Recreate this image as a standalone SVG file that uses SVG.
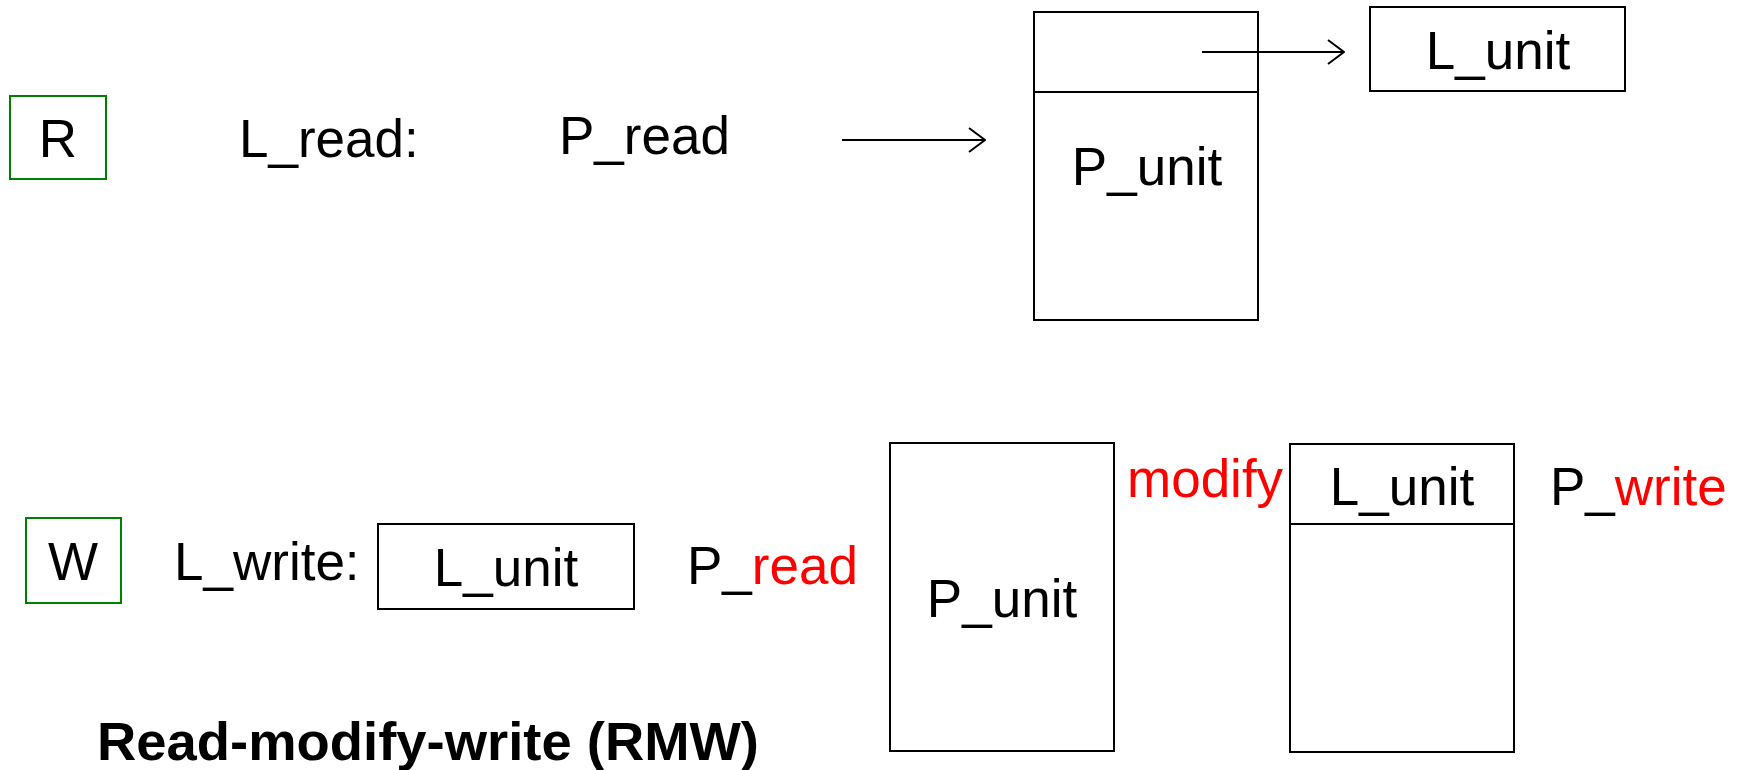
<svg xmlns="http://www.w3.org/2000/svg" width="1742" height="770" viewBox="0 0 1742 770">
<defs>
<style>
.t{font-family:"Liberation Sans",Arial,sans-serif;font-size:53px;fill:#000}
.c{text-anchor:middle}
.r{fill:#ff0000}
.box{fill:none;stroke:#000;stroke-width:2}
.gbox{fill:none;stroke:#008000;stroke-width:2}
.ln{fill:none;stroke:#000;stroke-width:2}
.title{font-family:"Liberation Sans",Arial,sans-serif;font-size:53px;font-weight:bold;fill:#000}
</style>
<marker id="arr" viewBox="0 0 18 26" refX="17" refY="13" markerWidth="18" markerHeight="26" markerUnits="userSpaceOnUse" orient="auto">
<path d="M1,1 L17,13 L1,25" fill="none" stroke="#000" stroke-width="2"/>
</marker>
</defs>
<rect width="1742" height="770" fill="#fff"/>

<g id="R">
<rect class="gbox" x="10" y="96" width="96" height="83"/>
<text class="t c" x="58" y="157">R</text>
</g>
<g id="L_read"><text class="t" x="239" y="157">L_read:</text></g>
<g id="P_read_top"><text class="t" x="559" y="154">P_read</text></g>
<g id="P_unit_top">
<rect class="box" x="1034" y="12" width="224" height="308"/>
<line class="ln" x1="1034" y1="92" x2="1258" y2="92"/>
<text class="t c" x="1147" y="185">P_unit</text>
</g>
<g id="L_unit_top">
<rect class="box" x="1370" y="7" width="255" height="84"/>
<text class="t c" x="1498" y="69">L_unit</text>
</g>

<g id="W">
<rect class="gbox" x="26" y="518" width="95" height="85"/>
<text class="t c" x="73" y="580">W</text>
</g>
<g id="L_write"><text class="t" x="174" y="580">L_write:</text></g>
<g id="L_unit_w">
<rect class="box" x="378" y="524" width="256" height="85"/>
<text class="t c" x="506" y="586">L_unit</text>
</g>
<g id="P_read_w"><text class="t" x="687" y="584">P_<tspan class="r">read</tspan></text></g>
<g id="P_unit_w">
<rect class="box" x="890" y="443" width="224" height="308"/>
<text class="t c" x="1002" y="617">P_unit</text>
</g>
<g id="modify"><text class="t r" x="1127" y="497">modify</text></g>
<g id="L_unit_w2">
<rect class="box" x="1290" y="444" width="224" height="308"/>
<line class="ln" x1="1290" y1="524" x2="1514" y2="524"/>
<text class="t c" x="1402" y="505">L_unit</text>
</g>
<g id="P_write"><text class="t" x="1550" y="505">P_<tspan class="r">write</tspan></text></g>
<g id="title"><text class="title" x="97" y="760" textLength="662" lengthAdjust="spacingAndGlyphs">Read-modify-write (RMW)</text></g>

<g id="connectors">
<line class="ln" x1="842" y1="140" x2="985" y2="140" marker-end="url(#arr)"/>
<line class="ln" x1="1202" y1="52" x2="1344" y2="52" marker-end="url(#arr)"/>
</g>
</svg>
